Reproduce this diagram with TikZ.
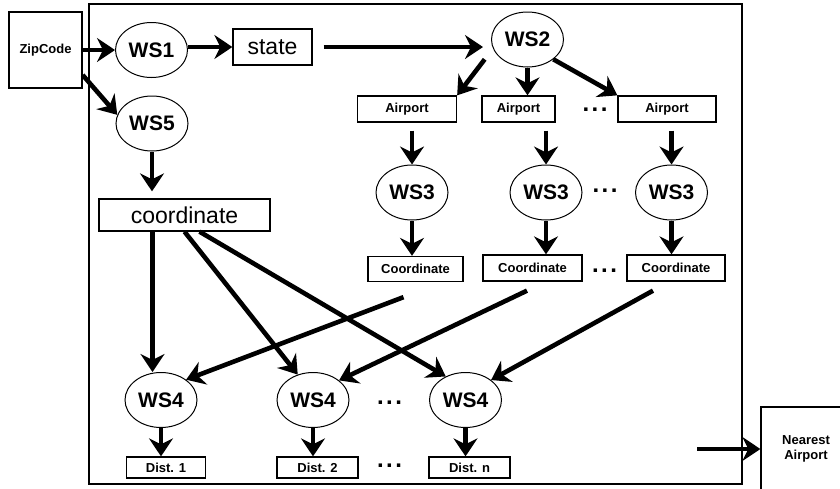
\documentclass[tikz,border=0pt]{standalone}
\usepackage{fontspec}
\setmainfont{Liberation Sans}
\usetikzlibrary{shapes.geometric,arrows.meta}
\begin{document}
\begin{tikzpicture}[x=1pt, y=-1pt, line width=1pt,
        ws/.style = {draw, ellipse, inner sep=0pt, minimum width=72pt, minimum height=55pt, font=\fontsize{21}{24}\selectfont\bfseries},
        box/.style = {draw, rectangle, line width=1.3pt, inner sep=0pt, font=\fontsize{13}{15.5}\selectfont\bfseries},
        big/.style = {box, font=\fontsize{23}{26}\selectfont},
        dots/.style = {inner sep=0pt, font=\fontsize{24}{26}\selectfont\bfseries},
        arr/.style = {-{Stealth[length=18pt, width=24pt, inset=6pt]}, line width=4.6pt}]
        \useasboundingbox (0,0) rectangle (840,488);
        \clip (0,0) rectangle (840,488);
        \draw[line width=1.5pt] (89,4) rectangle (742,484);
        % top row
        \node[box, minimum width=73pt, minimum height=76pt] (zip) at (45.5,50) {ZipCode};
        \node[ws] (ws1) at (151.5,50) {WS1};
        \node[big, minimum width=79pt, minimum height=36pt] (state) at (272.5,47) {state};
        \node[ws] (ws2) at (527.5,39.5) {WS2};
        \node[ws] (ws5) at (152,123.5) {WS5};
        \node[big, minimum width=171pt, minimum height=32pt] (coord) at (184.5,215) {coordinate};
        % airports
        \node[box, minimum width=99pt, minimum height=26pt] (ap1) at (407,109) {Airport};
        \node[box, minimum width=73pt, minimum height=26pt] (ap2) at (518.5,109) {Airport};
        \node[box, minimum width=98pt, minimum height=26pt] (ap3) at (667,109) {Airport};
        \node[ws] (ws3a) at (412,192.5) {WS3};
        \node[ws] (ws3b) at (546,192.5) {WS3};
        \node[ws] (ws3c) at (671.5,192.5) {WS3};
        \node[box, minimum width=95pt, minimum height=25pt] (co1) at (415.5,269) {Coordinate};
        \node[box, minimum width=99pt, minimum height=26pt] (co2) at (532.5,268) {Coordinate};
        \node[box, minimum width=98pt, minimum height=26pt] (co3) at (676,268) {Coordinate};
        % distances
        \node[ws] (ws4a) at (161,400) {WS4};
        \node[ws] (ws4b) at (313,400) {WS4};
        \node[ws] (ws4c) at (465.5,400) {WS4};
        \node[box, minimum width=79pt, minimum height=21pt] (d1) at (166,467.5) {Dist. 1};
        \node[box, minimum width=81pt, minimum height=21pt] (d2) at (317.5,467.5) {Dist. 2};
        \node[box, minimum width=81pt, minimum height=21pt] (dn) at (469.5,467.5) {Dist. n};
        \node[box, minimum width=90pt, minimum height=84pt, align=center] (near) at (806,449) {Nearest\\Airport};
        % dots
        \node[dots] (dt1) at (595,110) {.\hspace{2.5pt}.\hspace{2.5pt}.};
        \node[dots] (dt2) at (605,191) {.\hspace{2.5pt}.\hspace{2.5pt}.};
        \node[dots] (dt3) at (604.5,271) {.\hspace{2.5pt}.\hspace{2.5pt}.};
        \node[dots] (dt4) at (389.5,403) {.\hspace{2.5pt}.\hspace{2.5pt}.};
        \node[dots] (dt5) at (389.5,466) {.\hspace{2.5pt}.\hspace{2.5pt}.};
        % free ends
        \coordinate (ws2l) at ([xshift=-17pt]ws2.south west);
        \coordinate (c1) at ([xshift=-12pt, yshift=-15pt]co1.south);
        \coordinate (c2) at ([xshift=-5.5pt, yshift=-9pt]co2.south);
        \coordinate (c3) at ([xshift=-23pt, yshift=-9pt]co3.south);
        \coordinate (out) at ([xshift=-63pt]near.west);
        % arrows
        \draw[arr] (zip) -- (ws1);
        \draw[arr] (ws1.east |- state.west) -- (state.west);
        \draw[arr, shorten <=11pt, shorten >=8pt] (state.east) -- (ws2.west |- state.east);
        \draw[arr] ([yshift=-25pt]zip.east) -- (ws5.166);
        \draw[arr, shorten >=7pt] (ws5.south) -- (ws5.south |- coord.north);
        \draw[arr] (ws2l) -- (ap1.north east);
        \draw[arr] (ws2.south) -- (ws2.south |- ap2.north);
        \draw[arr] (ws2.south east) -- (ap3.north west);
        \foreach \a/\w in {ap1/ws3a, ap2/ws3b, ap3/ws3c}
            \draw[arr, shorten <=8pt] (\w.north |- \a.south) -- (\w.north);
        \foreach \w/\c in {ws3a/co1, ws3b/co2, ws3c/co3}
            \draw[arr] (\w.south) -- (\w.south |- \c.north);
        \draw[arr] ([xshift=-32pt]coord.south) -- ([xshift=-32pt]coord.south |- ws4a.north);
        \draw[arr] (coord.south) -- (ws4b.121);
        \draw[arr] ([xshift=15pt]coord.south) -- (ws4c.130);
        \draw[arr] (c1) -- (ws4a.39);
        \draw[arr] (c2) -- (ws4b.37);
        \draw[arr] (c3) -- (ws4c.38);
        \foreach \w/\d in {ws4a/d1, ws4b/d2, ws4c/dn}
            \draw[arr] (\w.south) -- (\w.south |- \d.north);
        \draw[arr] (out) -- (near.west);
    \end{tikzpicture}
\end{document}
